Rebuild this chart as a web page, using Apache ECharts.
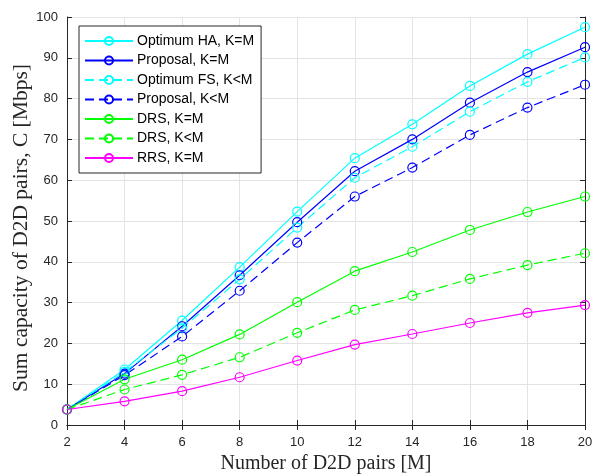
<!DOCTYPE html>
<html>
<head>
<meta charset="utf-8">
<script src="https://cdn.jsdelivr.net/npm/echarts@6/dist/echarts.min.js"></script>
<style>
  html, body { margin: 0; padding: 0; background: #fff; }
  #chart { width: 595px; height: 476px; }
</style>
</head>
<body>
<div id="chart"></div>
<script>
// number of D2D pairs M
const pairs = [2, 4, 6, 8, 10, 12, 14, 16, 18, 20]

// sum capacity [Mbps]
const optHA = [3.8, 13.6, 25.6, 38.7, 52.3, 65.4, 73.7, 83.1, 90.9, 97.5]
const propKM = [3.8, 12.6, 24.2, 36.7, 49.7, 62.2, 70.0, 79.0, 86.5, 92.6]
const optFS = [3.8, 13.0, 23.7, 35.7, 48.4, 60.6, 68.2, 76.8, 84.1, 90.1]
const propKlM = [3.8, 12.2, 21.7, 32.9, 44.7, 56.0, 63.1, 71.1, 77.8, 83.4]
const drsKM = [3.8, 11.2, 16.0, 22.2, 30.1, 37.7, 42.4, 47.8, 52.2, 56.0]
const drsKlM = [3.8, 8.7, 12.3, 16.6, 22.6, 28.2, 31.7, 35.8, 39.2, 42.1]
const rrsKM = [3.8, 5.8, 8.3, 11.7, 15.8, 19.7, 22.3, 25.0, 27.5, 29.4]

const axisColor = '#262626'
const gridColor = '#e3e3e3'

function mkSeries(name, vals, color, dashed) {
  return {
    name: name,
    type: 'line',
    xAxisIndex: 0,
    yAxisIndex: 0,
    data: pairs.map((x, i) => [x, vals[i]]),
    symbol: 'circle',
    symbolSize: 9,
    itemStyle: { color: 'rgba(0,0,0,0)', borderColor: color, borderWidth: 1.2 },
    lineStyle: { color: color, width: 1.2, type: dashed ? [9, 5] : 'solid' },
    emphasis: { disabled: true }
  }
}

const myChart = echarts.init(document.getElementById('chart'))
const option = {
  animation: false,
  backgroundColor: '#fff',
  grid: { left: 67, right: 10, top: 17, bottom: 51, outerBoundsMode: 'none' },
  legend: {
    orient: 'vertical',
    left: 79,
    top: 26,
    backgroundColor: '#fff',
    borderColor: axisColor,
    borderWidth: 1,
    borderRadius: 0,
    padding: [8, 7, 8, 5],
    itemWidth: 48,
    itemHeight: 10,
    itemGap: 5.5,
    textStyle: { fontFamily: 'Liberation Sans, Arial', fontSize: 14, color: '#000', padding: [0, 0, 0, -1] },
    data: ['Optimum HA, K=M', 'Proposal, K=M', 'Optimum FS, K<M', 'Proposal, K<M', 'DRS, K=M', 'DRS, K<M', 'RRS, K=M']
  },
  xAxis: [
    {
      type: 'value',
      min: 2,
      max: 20,
      interval: 2,
      name: 'Number of D2D pairs [M]',
      nameLocation: 'middle',
      nameGap: 23,
      nameTextStyle: { fontFamily: 'Liberation Serif, Times New Roman', fontSize: 20, color: axisColor },
      axisLine: { lineStyle: { color: axisColor, width: 1 } },
      axisTick: { inside: true, length: 5, lineStyle: { color: axisColor } },
      axisLabel: { fontFamily: 'Liberation Sans, Arial', fontSize: 13, color: axisColor, margin: 11 },
      splitLine: { show: true, lineStyle: { color: gridColor, width: 1 } }
    },
    {
      type: 'value',
      position: 'top',
      min: 2,
      max: 20,
      interval: 2,
      axisLine: { show: true, lineStyle: { color: axisColor, width: 1 } },
      axisTick: { inside: true, length: 5, lineStyle: { color: axisColor } },
      axisLabel: { show: false },
      splitLine: { show: false }
    }
  ],
  yAxis: [
    {
      type: 'value',
      min: 0,
      max: 100,
      interval: 10,
      name: 'Sum capacity of D2D pairs, C [Mbps]',
      nameLocation: 'middle',
      nameGap: 35,
      nameMoveOverlap: false,
      nameTextStyle: { fontFamily: 'Liberation Serif, Times New Roman', fontSize: 21.5, color: axisColor, padding: [0, 14, 0, 0] },
      axisLine: { show: true, lineStyle: { color: axisColor, width: 1 } },
      axisTick: { show: true, inside: true, length: 5, lineStyle: { color: axisColor } },
      axisLabel: { fontFamily: 'Liberation Sans, Arial', fontSize: 13, color: axisColor, margin: 9 },
      splitLine: { show: true, lineStyle: { color: gridColor, width: 1 } }
    },
    {
      type: 'value',
      position: 'right',
      min: 0,
      max: 100,
      interval: 10,
      axisLine: { show: true, lineStyle: { color: axisColor, width: 1 } },
      axisTick: { show: true, inside: true, length: 5, lineStyle: { color: axisColor } },
      axisLabel: { show: false },
      splitLine: { show: false }
    }
  ],
  series: [
    mkSeries('Optimum HA, K=M', optHA, '#00ffff', false),
    mkSeries('Proposal, K=M', propKM, '#0000ff', false),
    mkSeries('Optimum FS, K<M', optFS, '#00ffff', true),
    mkSeries('Proposal, K<M', propKlM, '#0000ff', true),
    mkSeries('DRS, K=M', drsKM, '#00ff00', false),
    mkSeries('DRS, K<M', drsKlM, '#00ff00', true),
    mkSeries('RRS, K=M', rrsKM, '#ff00ff', false)
  ]
}

myChart.setOption(option)

window.addEventListener('resize', () => { myChart.resize() })
</script>
</body>
</html>
